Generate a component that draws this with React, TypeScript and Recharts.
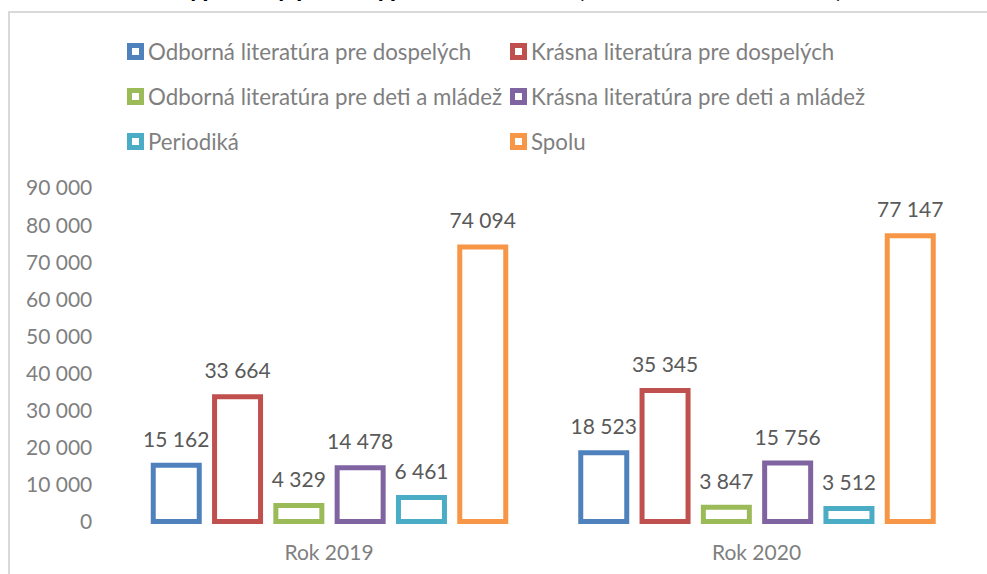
import React from 'react';
import { BarChart, Bar, XAxis, YAxis, LabelList } from 'recharts';

const categories = ['Rok 2019', 'Rok 2020'];
const seriesNames = [
  'Odborná literatúra pre dospelých',
  'Krásna literatúra pre dospelých',
  'Odborná literatúra pre deti a mládež',
  'Krásna literatúra pre deti a mládež',
  'Periodiká',
  'Spolu',
];
const seriesColors = ['#4F81BD', '#C0504D', '#9BBB59', '#8064A2', '#4BACC6', '#F79646'];
const odbornaDospeli = [15162, 18523];
const krasnaDospeli = [33664, 35345];
const odbornaDeti = [4329, 3847];
const krasnaDeti = [14478, 15756];
const periodika = [6461, 3512];
const spolu = [74094, 77147];
const yTicks = [0, 10000, 20000, 30000, 40000, 50000, 60000, 70000, 80000, 90000];
const titleText = 'Výpožičky podľa typu dokumentov (v rokoch 2019 a 2020)';

const seriesValues = [odbornaDospeli, krasnaDospeli, odbornaDeti, krasnaDeti, periodika, spolu];
const keys = ['s0', 's1', 's2', 's3', 's4', 's5'];

const data = categories.map((c, i) => {
  const row: any = { name: c };
  seriesValues.forEach((arr, k) => {
    row[keys[k]] = arr[i];
  });
  return row;
});

const fmt = (n: number) => String(n).replace(/\B(?=(\d{3})+(?!\d))/g, ' ');

const FONT = 'Lato, "Noto Sans", sans-serif';

export default function App() {
  return (
    <div style={{ position: 'absolute', left: 0, top: 0, width: 987, height: 574, overflow: 'hidden', background: '#fff', fontFamily: FONT }}>
      <div style={{ position: 'absolute', left: 8, top: 11, width: 1100, height: 700, border: '2px solid #d9d9d9', boxSizing: 'border-box' }} />
      <div style={{ position: 'absolute', left: 0, width: 1014, top: -26, textAlign: 'center', fontWeight: 700, fontSize: 26, lineHeight: '26px', color: '#000', whiteSpace: 'nowrap' }}>
        {titleText}
      </div>
      {seriesNames.map((name, i) => {
        const col = i % 2;
        const row = Math.floor(i / 2);
        const left = col === 0 ? 127 : 510;
        const cy = 51 + row * 45;
        return (
          <div key={name} style={{ position: 'absolute', left, top: cy - 13, height: 26, display: 'flex', alignItems: 'center', whiteSpace: 'nowrap' }}>
            <div style={{ width: 17, height: 17, boxSizing: 'border-box', border: `5px solid ${seriesColors[i]}`, background: '#fff' }} />
            <span style={{ marginLeft: 4, fontSize: 22.3, color: '#7f7f7f' }}>{name}</span>
          </div>
        );
      })}
      <div style={{ position: 'absolute', left: 0, top: 0 }}>
        <BarChart
          width={987}
          height={574}
          data={data}
          margin={{ top: 188, right: 16.75, bottom: 0, left: 0 }}
          barSize={46}
          barGap={15.3}
        >
          <XAxis
            dataKey="name"
            height={52.5}
            axisLine={false}
            tickLine={false}
            tickSize={0}
            tickMargin={23.5}
            tick={{ fill: '#7f7f7f', fontSize: 21, fontFamily: FONT }}
          />
          <YAxis
            width={115.25}
            domain={[0, 90000]}
            ticks={yTicks}
            interval={0}
            axisLine={false}
            tickLine={false}
            tickSize={0}
            tickMargin={23}
            tickFormatter={fmt}
            tick={{ fill: '#7f7f7f', fontSize: 21, fontFamily: FONT }}
          />
          {keys.map((k, i) => (
            <Bar key={k} dataKey={k} name={seriesNames[i]} fill="#ffffff" stroke={seriesColors[i]} strokeWidth={5} isAnimationActive={false}>
              <LabelList dataKey={k} position="top" offset={18.5} formatter={fmt} fill="#595959" fontSize={21} fontFamily={FONT} />
            </Bar>
          ))}
        </BarChart>
      </div>
    </div>
  );
}
